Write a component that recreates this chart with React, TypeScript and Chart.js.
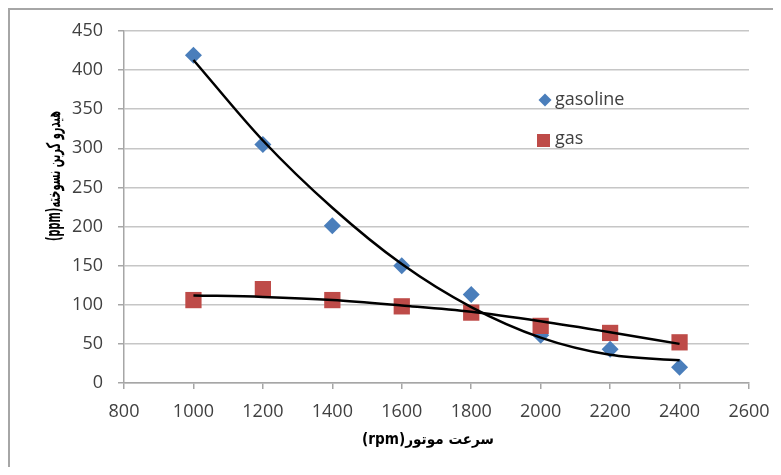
import { useEffect, useRef } from "react";
import { Chart, registerables } from "chart.js";

Chart.register(...registerables);

const rpm = [1000, 1200, 1400, 1600, 1800, 2000, 2200, 2400];
const gasoline = [419, 305, 201, 150, 113, 61, 43, 20];
const gas = [106, 120, 106, 98, 90, 73, 64, 52];
const gasolineTrend = [413, 310, 224, 152, 97, 58, 36, 29];
const gasTrend = [112, 110, 106, 99, 91, 79, 65, 50];
const seriesNames = ["gasoline", "gas"];
const xTitle = "سرعت موتور(rpm)";
const yTitle = "هیدرو کربن نسوخته(ppm)";
const xMin = 800;
const xMax = 2600;
const xStep = 200;
const yMin = 0;
const yMax = 450;
const yStep = 50;

const BLUE = "#4A7EBB";
const RED = "#BE4B48";
const TEXT = "#404040";
const TICK_FONT = { family: "'Open Sans', 'DejaVu Sans', sans-serif", size: 18 };

const toPoints = (ys: number[]) => rpm.map((x, i) => ({ x, y: ys[i] }));

const overlayPlugin = {
  id: "overlay",
  afterDraw(chart: any) {
    const ctx = chart.ctx as CanvasRenderingContext2D;
    ctx.save();
    // legend
    ctx.fillStyle = BLUE;
    const dx = 535, dy = 90, dr = 6.5;
    ctx.beginPath();
    ctx.moveTo(dx, dy - dr);
    ctx.lineTo(dx + dr, dy);
    ctx.lineTo(dx, dy + dr);
    ctx.lineTo(dx - dr, dy);
    ctx.closePath();
    ctx.fill();
    ctx.fillStyle = RED;
    ctx.fillRect(527, 124, 13, 13);
    ctx.fillStyle = TEXT;
    ctx.font = "18px 'Open Sans', sans-serif";
    ctx.textAlign = "left";
    ctx.textBaseline = "middle";
    ctx.fillText(seriesNames[0], 545, dy);
    ctx.fillText(seriesNames[1], 545, 129);
    // axis titles
    ctx.fillStyle = "#000";
    ctx.textAlign = "center";
    ctx.font = "bold 15px 'DejaVu Sans', sans-serif";
    ctx.fillText("\u202B" + xTitle + "\u202C", 418, 430, 132);
    ctx.font = "bold 19px 'DejaVu Sans', sans-serif";
    ctx.translate(45, 166);
    ctx.rotate(-Math.PI / 2);
    ctx.fillText("\u202B" + yTitle + "\u202C", 0, 0, 130);
    ctx.restore();
  },
};

export default function App() {
  const ref = useRef<HTMLCanvasElement>(null);
  useEffect(() => {
    if (!ref.current) return;
    const chart = new Chart(ref.current, {
      type: "scatter",
      data: {
        datasets: [
          {
            label: seriesNames[0] + " trend",
            data: toPoints(gasolineTrend),
            showLine: true,
            borderColor: "#000",
            borderWidth: 2.5,
            pointRadius: 0,
            cubicInterpolationMode: "monotone",
            order: 0,
          },
          {
            label: seriesNames[1] + " trend",
            data: toPoints(gasTrend),
            showLine: true,
            borderColor: "#000",
            borderWidth: 2.5,
            pointRadius: 0,
            cubicInterpolationMode: "monotone",
            order: 0,
          },
          {
            label: seriesNames[0],
            data: toPoints(gasoline),
            pointStyle: "rectRot",
            pointRadius: 8.5,
            backgroundColor: BLUE,
            borderColor: BLUE,
            borderWidth: 0,
            order: 2,
          },
          {
            label: seriesNames[1],
            data: toPoints(gas),
            pointStyle: "rect",
            pointRadius: 11.5,
            backgroundColor: RED,
            borderColor: RED,
            borderWidth: 0,
            order: 1,
          },
        ],
      },
      options: {
        responsive: false,
        animation: false,
        devicePixelRatio: 1,
        layout: { padding: { top: 21, right: 24, left: 0, bottom: 0 } },
        plugins: { legend: { display: false }, tooltip: { enabled: false } },
        scales: {
          x: {
            type: "linear",
            min: xMin,
            max: xMax,
            ticks: { stepSize: xStep, font: TICK_FONT, color: TEXT, padding: 12, maxRotation: 0, callback: (v: any) => String(v) },
            grid: { drawOnChartArea: false, drawTicks: true, tickLength: 6, color: "#a6a6a6", lineWidth: 1.5 },
            border: { color: "#a6a6a6", width: 1.5 },
            afterFit: (s: any) => { s.height = 84; s.paddingLeft = 0; s.paddingRight = 0; },
          },
          y: {
            min: yMin,
            max: yMax,
            ticks: { stepSize: yStep, font: TICK_FONT, color: TEXT, padding: 15, callback: (v: any) => String(v) },
            grid: { color: "#c6c6c6", lineWidth: 1.5, tickLength: 6, tickColor: "#a6a6a6" },
            border: { color: "#a6a6a6", width: 1.5 },
            afterFit: (s: any) => { s.width = 114; s.paddingTop = 0; s.paddingBottom = 0; },
          },
        },
      },
      plugins: [overlayPlugin],
    } as any);
    return () => chart.destroy();
  }, []);
  return (
    <div style={{ borderTop: "2px solid #a6a6a6", borderLeft: "2px solid #a6a6a6", width: 763, height: 457, background: "#fff" }}>
      <canvas ref={ref} width={763} height={457} style={{ display: "block" }} />
    </div>
  );
}
